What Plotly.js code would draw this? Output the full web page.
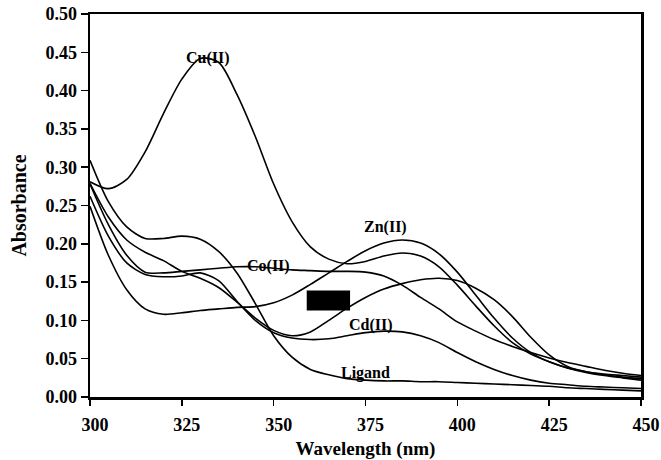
<!DOCTYPE html>
<html>
<head>
<meta charset="utf-8">
<script src="https://cdn.plot.ly/plotly-3.0.1.min.js"></script>
<style>html,body{margin:0;padding:0;background:#fff;}#chart{width:661px;height:460px;}</style>
</head>
<body>
<div id="chart"></div>
<script>
// Wavelength grid (nm)
var wavelength = [300,305,310,315,320,325,330,335,340,345,350,355,360,365,370,375,380,385,390,395,400,405,410,415,420,425,430,435,440,445,450];

// Absorbance series
var cuII = [0.281,0.272,0.284,0.320,0.370,0.415,0.442,0.437,0.395,0.340,0.278,0.229,0.196,0.180,0.174,0.177,0.184,0.188,0.184,0.170,0.146,0.119,0.093,0.071,0.056,0.046,0.038,0.033,0.029,0.026,0.024];
var znII = [0.249,0.185,0.140,0.115,0.108,0.110,0.113,0.115,0.117,0.118,0.123,0.133,0.147,0.162,0.177,0.191,0.201,0.205,0.201,0.187,0.163,0.133,0.103,0.077,0.058,0.046,0.038,0.032,0.028,0.025,0.022];
var coII = [0.278,0.225,0.185,0.163,0.162,0.164,0.166,0.168,0.170,0.170,0.168,0.166,0.165,0.164,0.164,0.163,0.158,0.146,0.130,0.115,0.098,0.086,0.075,0.066,0.058,0.051,0.045,0.040,0.035,0.031,0.028];
var hidden = [0.279,0.235,0.205,0.189,0.178,0.164,0.155,0.143,0.124,0.103,0.087,0.080,0.085,0.100,0.116,0.130,0.141,0.148,0.153,0.155,0.152,0.142,0.127,0.105,0.078,0.055,0.040,0.033,0.030,0.028,0.026];
var cdII = [0.262,0.210,0.175,0.160,0.157,0.158,0.162,0.152,0.125,0.100,0.084,0.077,0.075,0.076,0.080,0.084,0.086,0.085,0.080,0.071,0.058,0.046,0.036,0.028,0.022,0.018,0.016,0.014,0.013,0.012,0.011];
var ligand = [0.309,0.255,0.222,0.207,0.207,0.210,0.206,0.190,0.162,0.122,0.080,0.052,0.036,0.029,0.024,0.022,0.021,0.021,0.020,0.020,0.019,0.018,0.017,0.016,0.015,0.014,0.012,0.011,0.010,0.009,0.008];

var seriesNames = ['Cu(II)','Zn(II)','Co(II)','','Cd(II)','Ligand'];
var seriesValues = [cuII, znII, coII, hidden, cdII, ligand];

// Label positions (wavelength, absorbance)
var labelText = ['Cu(II)','Zn(II)','Co(II)','Cd(II)','Ligand'];
var labelX = [332.1, 380.4, 348.5, 376.4, 375.1];
var labelY = [0.443, 0.222, 0.171, 0.094, 0.031];

var serif = 'Liberation Serif, Times New Roman, serif';

var traces = seriesValues.map(function(v, i){
  return {
    x: wavelength, y: v, name: seriesNames[i] || 'series',
    type: 'scatter', mode: 'lines',
    line: {color: '#000', width: 1.6, shape: 'spline', smoothing: 0.8},
    hoverinfo: 'skip'
  };
});

var annotations = labelText.map(function(t, i){
  return {
    x: labelX[i], y: labelY[i], xref: 'x', yref: 'y', text: t,
    showarrow: false,
    font: {family: serif, size: 16, color: '#000', weight: 'bold'}
  };
});

var layout = {
  width: 661, height: 460,
  margin: {l: 90, r: 20, t: 14, b: 63},
  paper_bgcolor: '#fff', plot_bgcolor: '#fff',
  showlegend: false,
  font: {family: serif, color: '#000', weight: 'bold'},
  xaxis: {
    range: [300, 450], dtick: 25, tick0: 300,
    showgrid: false, zeroline: false,
    showline: true, linecolor: '#000', linewidth: 2.5, mirror: true,
    ticks: 'outside', ticklen: 6, tickwidth: 1.5, tickcolor: '#000',
    ticklabelstandoff: 4, ticklabelshift: 5,
    tickfont: {family: serif, size: 18, color: '#000', weight: 'bold'},
    title: {text: 'Wavelength (nm)', font: {family: serif, size: 19, color: '#000', weight: 'bold'}, standoff: 11}
  },
  yaxis: {
    range: [0, 0.5], dtick: 0.05, tick0: 0, tickformat: '.2f',
    showgrid: false, zeroline: false,
    showline: true, linecolor: '#000', linewidth: 2.5, mirror: true,
    ticks: 'outside', ticklen: 7, tickwidth: 1.5, tickcolor: '#000',
    tickfont: {family: serif, size: 18, color: '#000', weight: 'bold'},
    title: {text: 'Absorbance', font: {family: serif, size: 20, color: '#000', weight: 'bold'}, standoff: 14}
  },
  shapes: [{
    type: 'rect', xref: 'x', yref: 'y',
    x0: 359.0, x1: 370.8, y0: 0.113, y1: 0.139,
    fillcolor: '#000', line: {width: 0}
  }],
  annotations: annotations
};

Plotly.newPlot('chart', traces, layout, {displayModeBar: false, staticPlot: true});
</script>
</body>
</html>
